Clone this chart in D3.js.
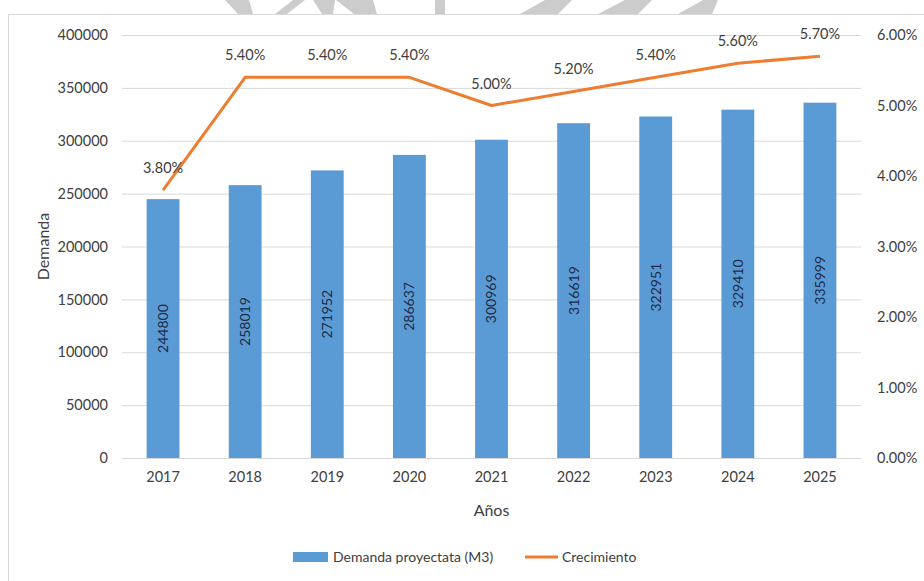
<!DOCTYPE html>
<html>
<head>
<meta charset="utf-8">
<script src="https://cdn.jsdelivr.net/npm/d3@7"></script>
<style>
  html, body { margin: 0; padding: 0; background: #fff; }
  svg { display: block; font-family: Lato, "Open Sans", sans-serif; }
</style>
</head>
<body>
<div id="chart"></div>
<script>
// data
const years = ['2017', '2018', '2019', '2020', '2021', '2022', '2023', '2024', '2025'];
const demanda = [244800, 258019, 271952, 286637, 300969, 316619, 322951, 329410, 335999];
const crecimiento = [3.8, 5.4, 5.4, 5.4, 5.0, 5.2, 5.4, 5.6, 5.7];
const leftTicks = [0, 50000, 100000, 150000, 200000, 250000, 300000, 350000, 400000];
const rightTicks = [0, 1, 2, 3, 4, 5, 6];

const width = 924, height = 581;
const margin = { top: 35, right: 63, bottom: 123, left: 122 };
const fontFamily = 'Lato, "Open Sans", sans-serif';

const svg = d3.select('#chart').append('svg')
  .attr('width', width)
  .attr('height', height)
  .attr('viewBox', `0 0 ${width} ${height}`);

// watermark shapes peeking over the top edge
const watermark = [
  [[225, 0], [249, 0], [253, 14], [238, 14]],
  [[275, 14], [293, 0], [305, 0], [287, 14]],
  [[313, 0], [335, 0], [333, 14], [322, 14]],
  [[336, 0], [373, 0], [377, 14], [354, 14]],
  [[435, 0], [445, 0], [445, 14], [435, 14]],
  [[520, 14], [545, 0], [572, 0], [558, 14]],
  [[598, 14], [625, 0], [652, 0], [638, 14]],
  [[678, 14], [703, 0], [718, 0], [712, 14]]
];
svg.append('g').selectAll('polygon').data(watermark)
  .enter().append('polygon')
  .attr('points', d => d.map(p => p.join(',')).join(' '))
  .attr('fill', '#cccccc');

// chart frame edges (left and top only are in view)
svg.append('line')
  .attr('x1', 8.5).attr('x2', 8.5).attr('y1', 14.5).attr('y2', height)
  .attr('stroke', '#d9d9d9');
svg.append('line')
  .attr('x1', 8.5).attr('x2', width).attr('y1', 14.5).attr('y2', 14.5)
  .attr('stroke', '#d9d9d9');

const innerWidth = width - margin.left - margin.right;
const innerHeight = height - margin.top - margin.bottom;

const x = d3.scaleBand()
  .domain(years)
  .range([0, innerWidth])
  .paddingInner(0.6)
  .paddingOuter(0.3);

const y = d3.scaleLinear()
  .domain([0, 400000])
  .range([innerHeight, 0]);

const y2 = d3.scaleLinear()
  .domain([0, 6])
  .range([innerHeight, 0]);

const g = svg.append('g')
  .attr('transform', `translate(${margin.left},${margin.top})`);

// left axis with gridlines
const yAxisG = g.append('g')
  .call(d3.axisLeft(y).tickValues(leftTicks).tickSize(-innerWidth).tickPadding(14)
    .tickFormat(d3.format('d')))
  .attr('font-family', fontFamily)
  .attr('font-size', 14.5);
yAxisG.select('.domain').remove();
yAxisG.selectAll('line').attr('stroke', '#d9d9d9');
yAxisG.selectAll('text').attr('fill', '#404040');

// right axis
const y2AxisG = g.append('g')
  .attr('transform', `translate(${innerWidth},0)`)
  .call(d3.axisRight(y2).tickValues(rightTicks).tickSize(0).tickPadding(16)
    .tickFormat(d => d.toFixed(2) + '%'))
  .attr('font-family', fontFamily)
  .attr('font-size', 14.5);
y2AxisG.select('.domain').remove();
y2AxisG.selectAll('text').attr('fill', '#404040');

// bottom axis
const xAxisG = g.append('g')
  .attr('transform', `translate(0,${innerHeight})`)
  .call(d3.axisBottom(x).tickSize(0).tickPadding(14))
  .attr('font-family', fontFamily)
  .attr('font-size', 14.5);
xAxisG.select('.domain').attr('stroke', '#d9d9d9');
xAxisG.selectAll('text').attr('fill', '#404040');

// bars
g.selectAll('.bar').data(years)
  .enter().append('rect')
  .attr('class', 'bar')
  .attr('x', d => x(d))
  .attr('y', (d, i) => y(demanda[i]))
  .attr('width', x.bandwidth())
  .attr('height', (d, i) => innerHeight - y(demanda[i]))
  .attr('fill', '#5b9bd5');

// bar value labels, rotated
g.selectAll('.bar-label').data(years)
  .enter().append('text')
  .attr('class', 'bar-label')
  .attr('transform', (d, i) => {
    const cx = x(d) + x.bandwidth() / 2;
    const cy = (y(demanda[i]) + innerHeight) / 2;
    return `translate(${cx},${cy}) rotate(-90)`;
  })
  .attr('text-anchor', 'middle')
  .attr('dy', '0.35em')
  .attr('fill', '#1e2b47')
  .style('font-size', '14px')
  .text((d, i) => demanda[i]);

// growth line
const line = d3.line()
  .x((d, i) => x(years[i]) + x.bandwidth() / 2)
  .y(d => y2(d));

g.append('path')
  .datum(crecimiento)
  .attr('d', line)
  .attr('fill', 'none')
  .attr('stroke', '#ed7d31')
  .attr('stroke-width', 3)
  .attr('stroke-linejoin', 'round');

g.selectAll('.pct-label').data(crecimiento)
  .enter().append('text')
  .attr('class', 'pct-label')
  .attr('x', (d, i) => x(years[i]) + x.bandwidth() / 2)
  .attr('y', d => y2(d) - 17)
  .attr('text-anchor', 'middle')
  .attr('fill', '#404040')
  .style('font-size', '14.5px')
  .text(d => d.toFixed(2) + '%');

// axis titles
g.append('text')
  .attr('x', innerWidth / 2)
  .attr('y', innerHeight + 58)
  .attr('text-anchor', 'middle')
  .attr('fill', '#404040')
  .style('font-size', '16px')
  .text('Años');

g.append('text')
  .attr('transform', `translate(${43 - margin.left},${innerHeight / 2}) rotate(-90)`)
  .attr('text-anchor', 'middle')
  .attr('dy', '0.35em')
  .attr('fill', '#404040')
  .style('font-size', '16px')
  .text('Demanda');

// legend
const legend = svg.append('g').attr('transform', 'translate(0,557)');
legend.append('rect')
  .attr('x', 293).attr('y', -5)
  .attr('width', 35).attr('height', 10)
  .attr('fill', '#5b9bd5');
legend.append('text')
  .attr('x', 333).attr('dy', '0.35em')
  .attr('fill', '#404040')
  .style('font-size', '14px')
  .text('Demanda proyectata (M3)');
legend.append('line')
  .attr('x1', 525).attr('x2', 558)
  .attr('stroke', '#ed7d31')
  .attr('stroke-width', 3);
legend.append('text')
  .attr('x', 562).attr('dy', '0.35em')
  .attr('fill', '#404040')
  .style('font-size', '14px')
  .text('Crecimiento');
</script>
</body>
</html>
